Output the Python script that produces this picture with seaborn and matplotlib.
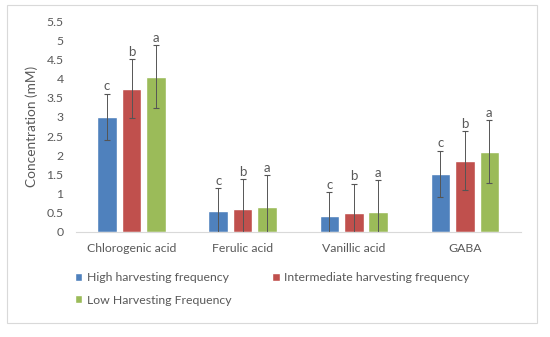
import pandas as pd
import numpy as np
import seaborn as sns
import matplotlib.pyplot as plt
from matplotlib.patches import Rectangle

compounds = ["Chlorogenic acid", "Ferulic acid", "Vanillic acid", "GABA"]
treatments = ["High harvesting frequency", "Intermediate harvesting frequency",
              "Low Harvesting Frequency"]
high = [3.0, 0.54, 0.43, 1.52]
intermediate = [3.73, 0.60, 0.49, 1.86]
low = [4.05, 0.66, 0.53, 2.09]
err_high = [0.60, 0.60, 0.60, 0.60]
err_intermediate = [0.77, 0.77, 0.77, 0.76]
err_low = [0.82, 0.82, 0.82, 0.82]
letters = ["c", "b", "a"]

colors = ["#4F81BD", "#C0504D", "#9BBB59"]

df = pd.DataFrame({
    "compound": compounds * 3,
    "treatment": [t for t in treatments for _ in compounds],
    "value": high + intermediate + low,
    "err": err_high + err_intermediate + err_low,
})

sns.set_style("white")
plt.rcParams['font.family'] = ['Lato', 'DejaVu Sans']
text_col = "#595959"

W, H = 550, 337
fig = plt.figure(figsize=(5.5, 3.37), dpi=100)
fig.patches.append(Rectangle((7 / W, 1 - 323 / H), 530 / W, 318 / H,
                             transform=fig.transFigure, fill=False,
                             edgecolor="#D9D9D9", linewidth=0.8))
ax = fig.add_axes([76 / W, 1 - 232 / H, 444.5 / W, 211 / H])

sns.barplot(data=df, x="compound", y="value", hue="treatment", palette=colors,
            width=0.66, gap=0.2, errorbar=None, ax=ax, saturation=1)

# error bars + significance letters
for i, t in enumerate(treatments):
    sub = df[df["treatment"] == t]
    cont = ax.containers[i]
    xs = [p.get_x() + p.get_width() / 2 for p in cont]
    ax.errorbar(xs, sub["value"], yerr=sub["err"], fmt="none", ecolor="#555555",
                elinewidth=0.7, capsize=2.5, capthick=0.8)
    for x, v, e in zip(xs, sub["value"], sub["err"]):
        ax.text(x, v + e + 0.04, letters[i], ha="center", va="bottom",
                fontsize=9.5, color=text_col)

ax.set_ylim(0, 5.5)
ax.set_yticks(np.arange(0, 5.51, 0.5))
ax.set_yticklabels([f"{v:g}" for v in np.arange(0, 5.51, 0.5)])
ax.set_xlim(-0.5, 3.5)
ax.set_xlabel("")
ax.set_ylabel("Concentration (mM)", fontsize=9.8, color=text_col, labelpad=6)
ax.tick_params(axis="both", length=0, labelsize=8.8, labelcolor=text_col)
ax.tick_params(axis="x", pad=8)
ax.tick_params(axis="y", pad=9)
for s in ["top", "right", "left"]:
    ax.spines[s].set_visible(False)
ax.spines["bottom"].set_color("#D9D9D9")

# row-major legend order: High, Intermediate / Low
handles, labels = ax.get_legend_handles_labels()
order = [0, 2, 1]
ax.get_legend().remove()
fig.legend([handles[k] for k in order], [labels[k] for k in order],
           loc="upper left", bbox_to_anchor=(75 / W, 1 - 272 / H),
           ncol=2, frameon=False, fontsize=8.8, labelcolor=text_col,
           handlelength=0.6, handleheight=0.6, handletextpad=0.4,
           columnspacing=3.3, labelspacing=0.95, borderpad=0, borderaxespad=0)

plt.savefig("out.png", dpi=100)
